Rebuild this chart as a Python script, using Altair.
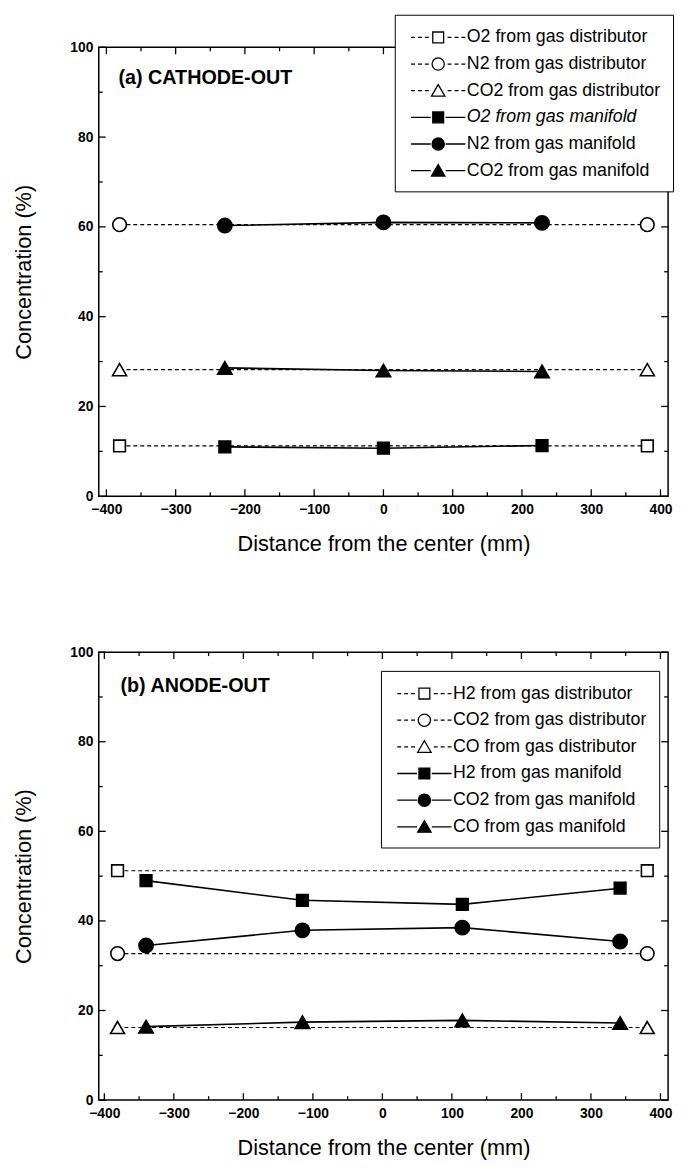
import altair as alt
import pandas as pd

FONT = "Liberation Sans"

panel_titles = ["(a) CATHODE-OUT", "(b) ANODE-OUT"]
x_title = "Distance from the center (mm)"
y_title = "Concentration (%)"

# ---- panel (a) CATHODE-OUT ----
a_labels = ["O2 from gas distributor", "N2 from gas distributor", "CO2 from gas distributor",
            "O2 from gas manifold", "N2 from gas manifold", "CO2 from gas manifold"]
a_dist_x = [-381, 381]
a_o2_dist = [11.2, 11.2]
a_n2_dist = [60.5, 60.5]
a_co2_dist = [28.2, 28.2]
a_man_x = [-229, 0, 229]
a_o2_man = [11.0, 10.7, 11.3]
a_n2_man = [60.3, 61.0, 60.9]
a_co2_man = [28.6, 28.0, 27.8]

# ---- panel (b) ANODE-OUT ----
b_labels = ["H2 from gas distributor", "CO2 from gas distributor", "CO from gas distributor",
            "H2 from gas manifold", "CO2 from gas manifold", "CO from gas manifold"]
b_dist_x = [-381, 381]
b_h2_dist = [51.2, 51.2]
b_co2_dist = [32.7, 32.7]
b_co_dist = [16.2, 16.2]
b_man_x = [-340, -115, 115, 342]
b_h2_man = [49.0, 44.6, 43.7, 47.3]
b_co2_man = [34.5, 37.9, 38.5, 35.4]
b_co_man = [16.4, 17.4, 17.8, 17.2]

# ---- axis ticks ----
x_major = [-400, -300, -200, -100, 0, 100, 200, 300, 400]
x_minor = [-350, -250, -150, -50, 50, 150, 250, 350]
y_major = [0, 20, 40, 60, 80, 100]
y_minor = [10, 30, 50, 70, 90]

# ---- styles ----
point_shapes = ["square", "circle", "triangle-up", "square", "circle", "triangle-up"]
point_fills = ["white", "white", "white", "black", "black", "black"]
point_sizes = [140, 190, 200, 140, 210, 215]

DASH = "M-2.75,0H-2.35M-2.05,0H-1.65M-1.35,0H-0.95M0.95,0H1.35M1.65,0H2.05M2.35,0H2.75"
SOLID = "M-2.75,0H-0.75M0.75,0H2.75"
SQ = "M-0.55,-0.55H0.55V0.55H-0.55Z"
CI = "M-0.62,0A0.62,0.62,0,1,0,0.62,0A0.62,0.62,0,1,0,-0.62,0Z"
TR = "M0,-0.62L0.68,0.55L-0.68,0.55Z"
legend_paths = [DASH + SQ, DASH + CI, DASH + TR, SOLID + SQ, SOLID + CI, SOLID + TR]


def build_df(labels, dist_x, dist_vals, man_x, man_vals):
    rows = []
    for lab, vals in zip(labels[:3], dist_vals):
        for x, y in zip(dist_x, vals):
            rows.append({"series": lab, "x": x, "y": y, "kind": "dist"})
    for lab, vals in zip(labels[3:], man_vals):
        for x, y in zip(man_x, vals):
            rows.append({"series": lab, "x": x, "y": y, "kind": "man"})
    return pd.DataFrame(rows)


def ticks(vals, axis, side, length, xs, ys, width, height):
    c = alt.Chart(pd.DataFrame({"v": vals})).mark_rule(color="black", strokeWidth=1.3)
    if axis == "x":
        enc = dict(x=alt.X("v:Q", scale=xs, axis=None))
        if side == "bottom":
            enc.update(y=alt.value(height), y2=alt.value(height - length))
        else:
            enc.update(y=alt.value(0), y2=alt.value(length))
    else:
        enc = dict(y=alt.Y("v:Q", scale=ys, axis=None))
        if side == "left":
            enc.update(x=alt.value(0), x2=alt.value(length))
        else:
            enc.update(x=alt.value(width), x2=alt.value(width - length))
    return c.encode(**enc)


def panel(df, labels, title_text, xdom, width, height, leg_x, leg_y, txt_x, txt_y, italic_label):
    xs = alt.Scale(domain=xdom, nice=False, zero=False)
    ys = alt.Scale(domain=[0, 100], nice=False, zero=False)
    base = alt.Chart(df)

    common = dict(grid=False, domain=False, ticks=False, tickSize=0, labelFlush=False,
                  labelOverlap=False, labelFont=FONT, labelFontSize=14, labelFontWeight="bold",
                  labelColor="black", titleFont=FONT, titleFontSize=22,
                  titleFontWeight="normal", titleColor="black")

    axes = base.mark_point(opacity=0).encode(
        x=alt.X("x:Q", scale=xs, title=x_title,
                axis=alt.Axis(orient="bottom", values=x_major, labelPadding=7,
                              titlePadding=17, **common)),
        y=alt.Y("y:Q", scale=ys, title=y_title,
                axis=alt.Axis(orient="left", values=y_major, labelPadding=6,
                              titlePadding=35, **common)))

    tick_layers = [
        ticks(x_major, "x", "bottom", 7, xs, ys, width, height),
        ticks(x_minor, "x", "bottom", 4, xs, ys, width, height),
        ticks(x_major, "x", "top", 7, xs, ys, width, height),
        ticks(x_minor, "x", "top", 4, xs, ys, width, height),
        ticks(y_major, "y", "left", 7, xs, ys, width, height),
        ticks(y_minor, "y", "left", 4, xs, ys, width, height),
        ticks(y_major, "y", "right", 7, xs, ys, width, height),
        ticks(y_minor, "y", "right", 4, xs, ys, width, height),
    ]

    xe = alt.X("x:Q", scale=xs, axis=None)
    ye = alt.Y("y:Q", scale=ys, axis=None)

    dist_line = base.transform_filter(alt.datum.kind == "dist").mark_line(
        color="black", strokeWidth=1.2, strokeDash=[4, 3]).encode(x=xe, y=ye, detail="series:N")
    man_line = base.transform_filter(alt.datum.kind == "man").mark_line(
        color="black", strokeWidth=1.6).encode(x=xe, y=ye, detail="series:N")

    pts = []
    for i, lab_name in enumerate(labels):
        pts.append(base.transform_filter(alt.datum.series == lab_name).mark_point(
            shape=point_shapes[i], filled=True, fill=point_fills[i], stroke="black",
            strokeWidth=1.6, size=point_sizes[i], opacity=1).encode(x=xe, y=ye))

    leg_kw = dict(title=None, orient="none", legendX=leg_x, legendY=leg_y,
                  direction="vertical", symbolSize=400, symbolStrokeWidth=1.3,
                  symbolStrokeColor="black", symbolOffset=21, labelOffset=18,
                  labelFont=FONT, labelFontSize=18, labelColor="black",
                  labelLimit=400, strokeColor="black", fillColor="white",
                  padding=12, rowPadding=7)
    if italic_label:
        leg_kw["labelFontStyle"] = alt.ExprRef(
            expr="datum.label == '" + italic_label + "' ? 'italic' : 'normal'")
    leg = alt.Legend(**leg_kw)
    legend_layer = base.transform_filter("false").mark_point(
        stroke="black", strokeWidth=1.3, opacity=1).encode(
        shape=alt.Shape("series:N", scale=alt.Scale(domain=labels, range=legend_paths), legend=leg),
        fill=alt.Fill("series:N", scale=alt.Scale(domain=labels, range=point_fills), legend=leg),
        stroke=alt.Stroke("series:N", scale=alt.Scale(domain=labels, range=["black"] * 6), legend=leg))

    text = alt.Chart(pd.DataFrame({"t": [title_text]})).mark_text(
        align="left", baseline="middle", font=FONT, fontSize=20, fontWeight="bold",
        color="black").encode(text="t:N", x=alt.value(txt_x), y=alt.value(txt_y))

    return alt.layer(axes, *tick_layers, dist_line, man_line, *pts, legend_layer, text).resolve_axis(
        x="independent", y="independent").properties(width=width, height=height)


df_a = build_df(a_labels, a_dist_x, [a_o2_dist, a_n2_dist, a_co2_dist],
                a_man_x, [a_o2_man, a_n2_man, a_co2_man])
df_b = build_df(b_labels, b_dist_x, [b_h2_dist, b_co2_dist, b_co_dist],
                b_man_x, [b_h2_man, b_co2_man, b_co_man])

top = panel(df_a, a_labels, panel_titles[0], [-411, 411], 577, 455, 300, -33, 20, 31,
            "O2 from gas manifold")
bottom = panel(df_b, b_labels, panel_titles[1], [-408, 411], 577, 454, 286, 19, 22, 34, None)

chart = alt.vconcat(top, bottom, spacing=90).resolve_scale(
    fill="independent", shape="independent", stroke="independent").properties(
    padding={"left": 3, "top": -3, "right": 0, "bottom": 2}).configure(
    background="white").configure_view(stroke="black", strokeWidth=1.5)

chart.save("out.html", embed_options={"renderer": "svg", "actions": False})
